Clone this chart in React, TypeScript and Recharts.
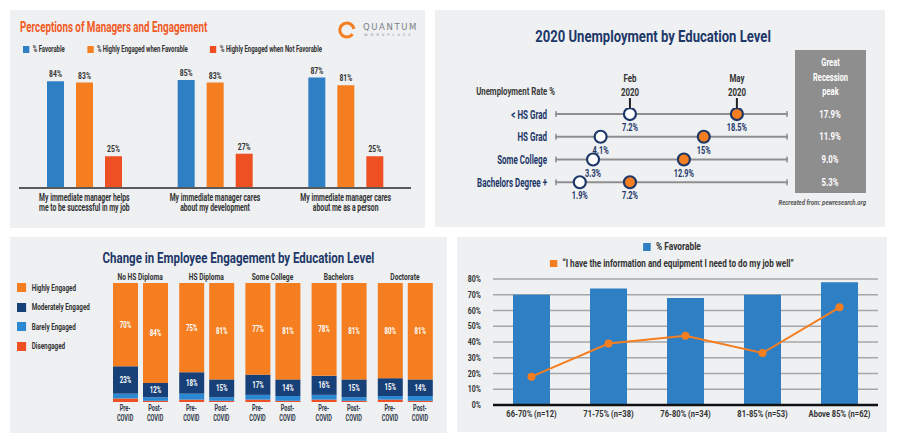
import React from 'react';
import {
  BarChart,
  Bar,
  XAxis,
  YAxis,
  LabelList,
  ScatterChart,
  Scatter,
  ReferenceLine,
  ComposedChart,
  Line,
  CartesianGrid
} from 'recharts';

// ---- Perceptions of Managers and Engagement
const managerStatements = [
  'My immediate manager helps|me to be successful in my job',
  'My immediate manager cares|about my development',
  'My immediate manager cares|about me as a person'
];
const pctFavorable = [84, 85, 87];
const engagedWhenFavorable = [83, 83, 81];
const engagedWhenNotFavorable = [25, 27, 25];

// ---- 2020 Unemployment by Education Level
const educationLevels = ['< HS Grad', 'HS Grad', 'Some College', 'Bachelors Degree +'];
const feb2020 = [7.2, 4.1, 3.3, 1.9];
const may2020 = [18.5, 15, 12.9, 7.2];
const recessionPeak = [17.9, 11.9, 9.0, 5.3];
const monthLabels = ['Feb|2020', 'May|2020'];

// ---- Change in Employee Engagement by Education Level
const degreeGroups = ['No HS Diploma', 'HS Diploma', 'Some College', 'Bachelors', 'Doctorate'];
const preHighly = [70, 75, 77, 78, 80];
const preModerately = [23, 18, 17, 16, 15];
const preBarely = [4, 5, 4, 4, 3];
const preDisengaged = [3, 2, 2, 2, 2];
const postHighly = [84, 81, 81, 81, 81];
const postModerately = [12, 15, 14, 15, 14];
const postBarely = [3, 3, 4, 3, 4];
const postDisengaged = [1, 1, 1, 1, 1];

// ---- % Favorable vs information & equipment
const scoreBands = ['66-70% (n=12)', '71-75% (n=38)', '76-80% (n=34)', '81-85% (n=53)', 'Above 85% (n=62)'];
const favorableByBand = [70, 74, 68, 70, 78];
const infoEquipment = [18, 39, 44, 33, 62];
const percentTicks = [0, 10, 20, 30, 40, 50, 60, 70, 80];

const FONT = "Roboto, 'Liberation Sans', sans-serif";
const PANEL = '#eef0f2';
const NAVY = '#1d3768';
const BLUE = '#2e7fc4';
const ORANGE = '#f47e20';
const RED = '#ef5023';
const DARKBLUE = '#173f78';
const LIGHTBLUE = '#2b88d2';
const INK = '#333';

const managerData = managerStatements.map((s, i) => ({
  statement: s,
  favorable: pctFavorable[i],
  engagedFav: engagedWhenFavorable[i],
  engagedNotFav: engagedWhenNotFavorable[i]
}));

const febPoints = feb2020.map((v, i) => ({ x: v, row: i }));
const mayPoints = may2020.map((v, i) => ({ x: v, row: i }));

const engagementData = degreeGroups.map((g, i) => ({
  group: g,
  preHighly: preHighly[i],
  preModerately: preModerately[i],
  preBarely: preBarely[i],
  preDisengaged: preDisengaged[i],
  postHighly: postHighly[i],
  postModerately: postModerately[i],
  postBarely: postBarely[i],
  postDisengaged: postDisengaged[i]
}));

const bandData = scoreBands.map((b, i) => ({ band: b, favorable: favorableByBand[i], info: infoEquipment[i] }));

// condensed-looking svg text (no condensed font installed, so squeeze horizontally)
const SqText = ({ x, y, size, fill = INK, anchor = 'middle', sx = 0.72, lines, lh = 10 }: any) => (
  <text
    transform={`translate(${x} ${y}) scale(${sx} 1)`}
    textAnchor={anchor}
    fontSize={size}
    fill={fill}
    fontFamily={FONT}
    fontWeight={700}
  >
    {lines.map((l: string, i: number) => (
      <tspan key={i} x={0} dy={i === 0 ? 0 : lh}>
        {l}
      </tspan>
    ))}
  </text>
);

// condensed-looking html text
const Sq = ({ sx, origin = 'left center', style, children }: any) => (
  <div
    style={{
      fontFamily: FONT,
      fontWeight: 700,
      whiteSpace: 'nowrap',
      transform: `scaleX(${sx})`,
      transformOrigin: origin,
      ...style
    }}
  >
    {children}
  </div>
);

const ManagerTick = ({ x, y, payload }: any) => (
  <SqText x={x} y={y + 13} size={10} sx={0.68} lh={10} lines={String(payload.value).split('|')} />
);

const TopValue = (p: any) => <SqText x={p.x + p.width / 2} y={p.y - 4} size={8.5} sx={0.8} lines={[`${p.value}%`]} />;

const MonthTick = ({ x, y, index }: any) => (
  <SqText x={x} y={y - 14} size={10.5} sx={0.75} lh={14} lines={monthLabels[index].split('|')} />
);

const LevelTick = ({ x, y, payload }: any) => (
  <SqText x={x} y={y + 4.5} size={12.5} sx={0.64} anchor="end" fill={NAVY} lines={[educationLevels[payload.value]]} />
);

const PeakTick = ({ x, y, payload }: any) => (
  <SqText x={x + 42} y={y + 3.5} size={10} sx={0.78} fill="#fff" lines={[`${recessionPeak[payload.value].toFixed(1)}%`]} />
);

const PointValue = (p: any) => {
  const vb = p.viewBox || p;
  const cx = vb.x + (vb.width || 0) / 2;
  const cy = vb.y + (vb.height || 0) / 2;
  return <SqText x={cx} y={cy + 17} size={10} sx={0.74} fill={NAVY} lines={[`${p.value}%`]} />;
};

const RowLine = (p: any) => (
  <g>
    <line x1={p.x1} y1={p.y1} x2={p.x2} y2={p.y2} stroke="#8f8f8f" strokeWidth={2} />
    <line x1={p.x1 + 1} y1={p.y1 - 3} x2={p.x1 + 1} y2={p.y1 + 3} stroke="#8f8f8f" strokeWidth={1.5} />
    <line x1={p.x2 - 1} y1={p.y2 - 3} x2={p.x2 - 1} y2={p.y2 + 3} stroke="#8f8f8f" strokeWidth={1.5} />
  </g>
);

const GroupTick = ({ x, y, payload }: any) => <SqText x={x} y={y} size={9} sx={0.74} lines={[payload.value]} />;

const CovidTick = ({ x, y }: any) => (
  <g>
    <SqText x={x - 15} y={y + 9} size={9} sx={0.62} lh={10} fill="#2f3a4a" lines={['Pre-', 'COVID']} />
    <SqText x={x + 15} y={y + 9} size={9} sx={0.62} lh={10} fill="#2f3a4a" lines={['Post-', 'COVID']} />
  </g>
);

const StackValue = (p: any) => (
  <SqText x={p.x + p.width / 2} y={p.y + p.height / 2 + 3} size={8.5} sx={0.72} fill="#fff" lines={[`${p.value}%`]} />
);

const BandTick = ({ x, y, payload }: any) => <SqText x={x} y={y + 9} size={9} sx={0.84} lines={[payload.value]} />;

const PctTick = ({ x, y, payload }: any) => (
  <SqText x={x} y={y + 3} size={8.5} sx={0.82} anchor="end" lines={[`${payload.value}%`]} />
);

const abs = (left: number, top: number, extra: React.CSSProperties = {}): React.CSSProperties => ({
  position: 'absolute',
  left,
  top,
  ...extra
});

const managerLegend = [
  { name: '% Favorable', color: BLUE },
  { name: '% Highly Engaged when Favorable', color: ORANGE },
  { name: '% Highly Engaged when Not Favorable', color: RED }
];

const engagementLegend = [
  { name: 'Highly Engaged', color: ORANGE },
  { name: 'Moderately Engaged', color: DARKBLUE },
  { name: 'Barely Engaged', color: LIGHTBLUE },
  { name: 'Disengaged', color: RED }
];

export default function App() {
  return (
    <div style={{ position: 'absolute', left: 0, top: 0, width: 900, height: 444, background: '#fff', overflow: 'hidden' }}>
      {/* panel backgrounds */}
      <div style={abs(10, 10, { width: 415, height: 218, background: PANEL })} />
      <div style={abs(435, 10, { width: 450, height: 217, background: PANEL })} />
      <div style={abs(10, 237, { width: 437, height: 196, background: PANEL })} />
      <div style={abs(457, 237, { width: 430, height: 195, background: PANEL })} />

      {/* ---------- top left ---------- */}
      <Sq sx={0.7} style={abs(20, 19, { color: '#f15a24', fontSize: 14 })}>
        Perceptions of Managers and Engagement
      </Sq>
      <svg style={abs(338, 20)} width={20} height={20}>
        <path d="M 14.5 14.2 A 7 7 0 1 1 15.8 9" fill="none" stroke={ORANGE} strokeWidth={3} />
      </svg>
      <div style={abs(363, 22, { fontFamily: "'DejaVu Sans', sans-serif", color: '#7a7f86', fontSize: 8.5, letterSpacing: 1.6 })}>
        QUANTUM
      </div>
      <div style={abs(364, 33, { fontFamily: "'DejaVu Sans', sans-serif", color: '#8a8f96', fontSize: 3.6, letterSpacing: 3 })}>
        WORKPLACE
      </div>
      <Sq sx={0.7} style={abs(23, 44, { display: 'flex', gap: 32, fontSize: 8.5, color: INK })}>
        {managerLegend.map(l => (
          <div key={l.name} style={{ display: 'flex', alignItems: 'center', gap: 5 }}>
            <span style={{ width: 9, height: 7, background: l.color, display: 'inline-block' }} />
            {l.name}
          </div>
        ))}
      </Sq>
      <div style={abs(10, 10)}>
        <BarChart
          width={415}
          height={218}
          data={managerData}
          margin={{ top: 51, right: 14, left: 9, bottom: 0 }}
          barSize={17}
          barGap={12}
        >
          <XAxis
            dataKey="statement"
            height={40}
            tickLine={false}
            tickSize={0}
            tickMargin={0}
            axisLine={{ stroke: '#5a5a5a', strokeWidth: 2 }}
            tick={<ManagerTick />}
            interval={0}
          />
          <YAxis hide domain={[0, 100]} />
          <Bar dataKey="favorable" fill={BLUE} isAnimationActive={false}>
            <LabelList dataKey="favorable" content={<TopValue />} />
          </Bar>
          <Bar dataKey="engagedFav" fill={ORANGE} isAnimationActive={false}>
            <LabelList dataKey="engagedFav" content={<TopValue />} />
          </Bar>
          <Bar dataKey="engagedNotFav" fill={RED} isAnimationActive={false}>
            <LabelList dataKey="engagedNotFav" content={<TopValue />} />
          </Bar>
        </BarChart>
      </div>

      {/* ---------- top right ---------- */}
      <Sq sx={0.77} origin="center" style={abs(436, 26, { width: 434, textAlign: 'center', color: NAVY, fontSize: 17 })}>
        2020 Unemployment by Education Level
      </Sq>
      <div style={abs(795, 50, { width: 71, height: 143, background: '#8e8e8e' })} />
      <Sq sx={0.75} origin="center" style={abs(795, 56, { width: 71, textAlign: 'center', color: '#fff', fontSize: 10, lineHeight: '14.5px' })}>
        Great
        <br />
        Recession
        <br />
        peak
      </Sq>
      <Sq sx={0.78} origin="right center" style={abs(436, 86, { width: 119, textAlign: 'right', color: '#3a3a3a', fontSize: 10 })}>
        Unemployment Rate %
      </Sq>
      <Sq
        sx={0.8}
        origin="right center"
        style={abs(700, 198, { width: 166, textAlign: 'right', fontStyle: 'italic', color: '#555', fontSize: 7.5 })}
      >
        Recreated from: pewresearch.org
      </Sq>
      <div style={abs(436, 10)}>
        <ScatterChart width={450} height={210} margin={{ top: 58, right: 20, left: 0, bottom: 15 }}>
          <XAxis
            type="number"
            dataKey="x"
            orientation="top"
            domain={[-0.72, 23.9]}
            ticks={[feb2020[0], may2020[0]]}
            interval={0}
            height={40}
            axisLine={false}
            tickSize={10}
            tickMargin={2}
            tickLine={{ stroke: '#222', strokeWidth: 2 }}
            tick={<MonthTick />}
            allowDataOverflow
          />
          <YAxis
            type="number"
            dataKey="row"
            domain={[-0.265, 4]}
            reversed
            ticks={[0, 1, 2, 3]}
            interval={0}
            width={119}
            axisLine={false}
            tickLine={false}
            tickSize={0}
            tickMargin={8}
            tick={<LevelTick />}
            allowDataOverflow
          />
          <YAxis
            yAxisId="peak"
            orientation="right"
            type="number"
            domain={[-0.265, 4]}
            reversed
            ticks={[0, 1, 2, 3]}
            interval={0}
            width={78}
            axisLine={false}
            tickLine={false}
            tickSize={0}
            tickMargin={0}
            tick={<PeakTick />}
            allowDataOverflow
          />
          {educationLevels.map((l, i) => (
            <ReferenceLine key={l} y={i} shape={<RowLine />} />
          ))}
          <Scatter
            data={febPoints}
            isAnimationActive={false}
            shape={(p: any) => <circle cx={p.cx} cy={p.cy} r={6} fill="#fff" stroke={NAVY} strokeWidth={2.2} />}
          >
            <LabelList dataKey="x" content={<PointValue />} />
          </Scatter>
          <Scatter
            data={mayPoints}
            isAnimationActive={false}
            shape={(p: any) => <circle cx={p.cx} cy={p.cy} r={6} fill={ORANGE} stroke={NAVY} strokeWidth={2.2} />}
          >
            <LabelList dataKey="x" content={<PointValue />} />
          </Scatter>
        </ScatterChart>
      </div>

      {/* ---------- bottom left ---------- */}
      <Sq sx={0.82} origin="center" style={abs(10, 250, { width: 457, textAlign: 'center', color: NAVY, fontSize: 14 })}>
        Change in Employee Engagement by Education Level
      </Sq>
      <Sq sx={0.7} style={abs(17, 282, { display: 'flex', flexDirection: 'column', gap: 8, fontSize: 9, color: INK })}>
        {engagementLegend.map(l => (
          <div key={l.name} style={{ display: 'flex', alignItems: 'center', gap: 8, height: 11.5 }}>
            <span style={{ width: 13, height: 9, background: l.color, display: 'inline-block' }} />
            {l.name}
          </div>
        ))}
      </Sq>
      <div style={abs(10, 237)}>
        <BarChart
          width={437}
          height={196}
          data={engagementData}
          margin={{ top: 32, right: 9, left: 97, bottom: 6 }}
          barSize={25}
          barGap={5}
        >
          <XAxis
            xAxisId="groups"
            dataKey="group"
            orientation="top"
            height={14}
            axisLine={false}
            tickLine={false}
            tickSize={0}
            tickMargin={3}
            tick={<GroupTick />}
            interval={0}
          />
          <XAxis
            dataKey="group"
            height={25}
            axisLine={false}
            tickLine={false}
            tickSize={0}
            tickMargin={0}
            tick={<CovidTick />}
            interval={0}
          />
          <YAxis hide domain={[0, 100]} />
          <Bar dataKey="preDisengaged" stackId="pre" fill={RED} isAnimationActive={false} />
          <Bar dataKey="preBarely" stackId="pre" fill={LIGHTBLUE} isAnimationActive={false} />
          <Bar dataKey="preModerately" stackId="pre" fill={DARKBLUE} isAnimationActive={false}>
            <LabelList dataKey="preModerately" content={<StackValue />} />
          </Bar>
          <Bar dataKey="preHighly" stackId="pre" fill={ORANGE} isAnimationActive={false}>
            <LabelList dataKey="preHighly" content={<StackValue />} />
          </Bar>
          <Bar dataKey="postDisengaged" stackId="post" fill={RED} isAnimationActive={false} />
          <Bar dataKey="postBarely" stackId="post" fill={LIGHTBLUE} isAnimationActive={false} />
          <Bar dataKey="postModerately" stackId="post" fill={DARKBLUE} isAnimationActive={false}>
            <LabelList dataKey="postModerately" content={<StackValue />} />
          </Bar>
          <Bar dataKey="postHighly" stackId="post" fill={ORANGE} isAnimationActive={false}>
            <LabelList dataKey="postHighly" content={<StackValue />} />
          </Bar>
        </BarChart>
      </div>

      {/* ---------- bottom right ---------- */}
      <div style={abs(457, 240, { width: 430, display: 'flex', flexDirection: 'column', alignItems: 'center', gap: 4 })}>
        <Sq sx={0.76} origin="center" style={{ display: 'flex', alignItems: 'center', gap: 7, fontSize: 11, color: INK }}>
          <span style={{ width: 10, height: 8, background: BLUE, display: 'inline-block' }} />% Favorable
        </Sq>
        <Sq sx={0.74} origin="center" style={{ display: 'flex', alignItems: 'center', gap: 7, fontSize: 11, color: INK }}>
          <span style={{ width: 10, height: 7, background: ORANGE, display: 'inline-block' }} />
          “I have the information and equipment I need to do my job well”
        </Sq>
      </div>
      <div style={abs(457, 237)}>
        <ComposedChart width={430} height={195} data={bandData} margin={{ top: 42, right: 9, left: 0, bottom: 5 }}>
          <CartesianGrid vertical={false} stroke="#a6a6a6" strokeWidth={1.5} />
          <XAxis
            dataKey="band"
            height={22}
            axisLine={{ stroke: '#111', strokeWidth: 2.5 }}
            tickLine={false}
            tickSize={0}
            tickMargin={3}
            tick={<BandTick />}
            interval={0}
          />
          <YAxis
            domain={[0, 80]}
            ticks={percentTicks}
            interval={0}
            width={36}
            axisLine={false}
            tickLine={false}
            tickSize={0}
            tickMargin={12}
            tick={<PctTick />}
          />
          <Bar dataKey="favorable" fill={BLUE} barSize={37} isAnimationActive={false} />
          <Line
            dataKey="info"
            type="linear"
            stroke={ORANGE}
            strokeWidth={2}
            dot={{ r: 3, fill: ORANGE, stroke: ORANGE }}
            isAnimationActive={false}
          />
        </ComposedChart>
      </div>
    </div>
  );
}
